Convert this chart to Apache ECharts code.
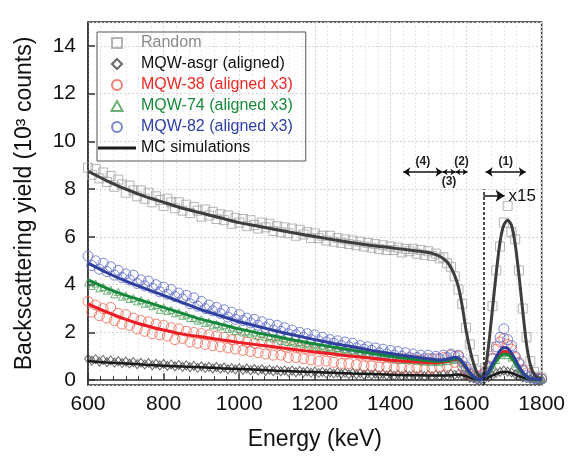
<!DOCTYPE html>
<html>
<head>
<meta charset="utf-8">
<script src="https://cdn.jsdelivr.net/npm/echarts@6/dist/echarts.min.js"></script>
<style>html,body{margin:0;padding:0;background:#fff}#chart{width:568px;height:456px}</style>
</head>
<body>
<div id="chart"></div>
<script>
// measured channels (keV)
let expEnergy = [600,610,620,630,640,650,660,670,680,690,700,710,720,730,740,750,760,770,780,790,
  800,810,820,830,840,850,860,870,880,890,900,910,920,930,940,950,960,970,980,990,
  1000,1010,1020,1030,1040,1050,1060,1070,1080,1090,1100,1110,1120,1130,1140,1150,1160,1170,1180,1190,
  1200,1210,1220,1230,1240,1250,1260,1270,1280,1290,1300,1310,1320,1330,1340,1350,1360,1370,1380,1390,
  1400,1410,1420,1430,1440,1450,1460,1470,1480,1490,1500,1510,1520,1530,1540,1550,1560,1570,1580,1590,
  1600,1610,1620,1630,1640,1650,1660,1670,1680,1690,1700,1710,1720,1730,1740,1750,1760,1770,1780,1790,1800];

let randomY = [8.9,8.6,8.85,8.45,8.7,8.3,8.55,8.1,8.4,8.2, 7.85,8.15,7.95,7.7,7.95,7.6,7.85,7.45,7.7,7.55,
  7.3,7.6,7.45,7.2,7.45,7.1,7.35,7.0,7.25,7.1, 6.85,7.15,6.9,7.05,6.75,6.95,6.7,6.9,6.55,6.8,
  6.6,6.75,6.45,6.7,6.5,6.35,6.6,6.4,6.55,6.25, 6.45,6.2,6.4,6.15,6.35,6.05,6.3,6.1,6.2,5.95,
  6.15,5.95,6.05,5.85,6.05,5.8,5.95,5.75,5.9,5.7, 5.85,5.65,5.8,5.6,5.75,5.55,5.7,5.5,5.65,5.45,
  5.6,5.45,5.55,5.35,5.5,5.4,5.5,5.3,5.45,5.25, 5.4,5.2,5.3,5.1,5.15,4.9,4.75,4.35,3.8,3.2,
  2.2,1.5,0.85,0.4,0.2,0.5,1.4,3.1,4.6,5.6, 6.6,7.3,6.2,5.9,4.6,3.0,1.8,0.8,0.35,0.15,0.1];

let asgrY = [0.9,0.82,0.88,0.78,0.85,0.76,0.83,0.74,0.8,0.72, 0.78,0.7,0.76,0.67,0.73,0.66,0.72,0.63,0.69,0.62,
  0.68,0.6,0.66,0.58,0.64,0.56,0.62,0.55,0.6,0.52, 0.58,0.51,0.56,0.49,0.55,0.48,0.53,0.46,0.51,0.45,
  0.5,0.43,0.49,0.42,0.47,0.41,0.46,0.39,0.44,0.38, 0.43,0.37,0.41,0.35,0.4,0.34,0.39,0.33,0.37,0.31,
  0.36,0.3,0.35,0.29,0.33,0.28,0.32,0.27,0.31,0.25, 0.3,0.24,0.29,0.23,0.28,0.22,0.27,0.21,0.26,0.2,
  0.25,0.19,0.24,0.18,0.23,0.18,0.22,0.17,0.22,0.17, 0.22,0.17,0.23,0.18,0.24,0.19,0.26,0.22,0.27,0.2,
  0.18,0.1,0.07,0.03,0.02,0.06,0.13,0.2,0.3,0.35, 0.4,0.36,0.33,0.25,0.2,0.12,0.08,0.05,0.04,0.03,0.02];

let mqw38Y = [3.3,2.85,3.15,2.7,3.0,2.6,3.05,2.5,2.8,2.35, 2.75,2.3,2.6,2.15,2.5,2.05,2.45,1.95,2.35,1.9,
  2.3,1.85,2.2,1.7,2.15,1.75,2.05,1.6,2.0,1.55, 1.95,1.5,1.9,1.45,1.85,1.4,1.8,1.35,1.7,1.3,
  1.75,1.25,1.6,1.2,1.55,1.15,1.6,1.1,1.5,1.05, 1.5,1.05,1.4,0.95,1.4,0.95,1.35,0.9,1.3,0.85,
  1.3,0.8,1.25,0.8,1.2,0.75,1.2,0.7,1.1,0.7, 1.15,0.65,1.05,0.6,1.0,0.6,1.0,0.55,0.95,0.55,
  0.95,0.5,0.9,0.5,0.9,0.45,0.9,0.5,0.85,0.45, 0.9,0.5,0.9,0.55,0.95,0.6,1.05,0.75,1.0,0.6,
  0.45,0.25,0.15,0.1,0.2,0.35,0.6,0.9,1.3,1.6, 1.75,1.5,1.3,0.95,0.75,0.45,0.3,0.15,0.1,0.08,0.05];

let mqw74Y = [4.1,3.95,4.05,3.85,3.9,3.75,3.8,3.6,3.7,3.5, 3.55,3.4,3.45,3.3,3.35,3.2,3.25,3.1,3.15,2.95,
  3.05,2.9,2.95,2.8,2.85,2.7,2.75,2.6,2.6,2.5, 2.55,2.4,2.45,2.3,2.35,2.25,2.3,2.15,2.2,2.05,
  2.15,2.0,2.05,1.95,2.0,1.85,1.95,1.8,1.85,1.75, 1.8,1.65,1.75,1.6,1.65,1.55,1.6,1.5,1.55,1.45,
  1.5,1.4,1.45,1.35,1.4,1.3,1.35,1.25,1.3,1.2, 1.25,1.15,1.2,1.1,1.15,1.05,1.1,1.0,1.05,0.95,
  1.0,0.9,0.95,0.85,0.9,0.85,0.88,0.8,0.85,0.78, 0.82,0.76,0.8,0.76,0.82,0.8,0.88,0.85,0.9,0.7,
  0.55,0.3,0.15,0.08,0.15,0.3,0.45,0.65,0.85,1.05, 1.15,1.05,0.95,0.7,0.5,0.3,0.18,0.1,0.07,0.05,0.04];

let mqw82Y = [5.2,4.8,5.0,4.65,4.9,4.55,4.75,4.4,4.6,4.3, 4.45,4.2,4.4,4.05,4.2,3.95,4.15,3.85,4.0,3.7,
  3.9,3.6,3.8,3.5,3.65,3.4,3.55,3.2,3.45,3.1, 3.3,3.0,3.15,2.9,3.05,2.8,2.95,2.65,2.85,2.55,
  2.75,2.5,2.6,2.4,2.55,2.3,2.45,2.2,2.35,2.1, 2.3,2.05,2.2,1.95,2.1,1.9,2.0,1.8,1.95,1.7,
  1.9,1.65,1.8,1.6,1.7,1.55,1.65,1.45,1.6,1.4, 1.55,1.35,1.45,1.3,1.4,1.25,1.35,1.15,1.3,1.1,
  1.25,1.05,1.2,1.0,1.15,0.95,1.1,0.95,1.05,0.9, 1.05,0.9,1.0,0.9,1.05,0.95,1.1,1.0,1.05,0.8,
  0.55,0.3,0.15,0.08,0.1,0.3,0.55,0.9,1.4,1.8, 2.15,1.7,1.45,1.0,0.7,0.4,0.2,0.12,0.08,0.06,0.05];

// MC simulation curves
let mcEnergy = [600,650,700,750,800,850,900,950,1000,1050,1100,1150,1200,1250,1300,1350,1400,1450,1500,
  1510,1520,1530,1540,1550,1560,1570,1580,1590,1600,1610,1620,1630,1640,1650,
  1660,1670,1680,1690,1700,1710,1720,1730,1740,1750,1760,1770,1780,1790,1800];
let mcRandom = [8.75,8.35,8.0,7.7,7.45,7.2,7.0,6.8,6.6,6.45,6.3,6.15,6.02,5.88,5.76,5.64,5.55,5.45,5.35,
  5.31,5.26,5.19,5.09,4.95,4.72,4.38,3.9,3.1,2.1,1.3,0.7,0.28,0.1,0.4,
  1.5,3.0,4.5,5.8,6.5,6.7,6.5,5.7,4.4,2.9,1.5,0.65,0.25,0.1,0.05];
let mcAsgr = [0.8,0.74,0.7,0.65,0.61,0.57,0.54,0.5,0.47,0.44,0.4,0.37,0.34,0.31,0.28,0.26,0.23,0.21,0.2,
  0.2,0.2,0.2,0.2,0.2,0.21,0.23,0.24,0.22,0.17,0.11,0.06,0.03,0.02,0.05,
  0.12,0.2,0.27,0.32,0.34,0.34,0.3,0.24,0.17,0.11,0.07,0.04,0.03,0.02,0.02];
let mc38 = [3.2,2.85,2.55,2.3,2.1,1.93,1.82,1.7,1.58,1.48,1.38,1.28,1.18,1.1,1.0,0.92,0.84,0.78,0.74,
  0.73,0.73,0.74,0.76,0.79,0.83,0.87,0.86,0.72,0.5,0.3,0.15,0.06,0.03,0.12,
  0.32,0.58,0.85,1.07,1.2,1.18,1.02,0.78,0.52,0.3,0.15,0.07,0.04,0.03,0.02];
let mc74 = [4.2,3.85,3.55,3.3,3.05,2.8,2.55,2.35,2.15,1.98,1.82,1.66,1.52,1.38,1.25,1.13,1.0,0.9,0.82,
  0.8,0.79,0.79,0.8,0.82,0.86,0.9,0.88,0.74,0.52,0.3,0.14,0.06,0.03,0.12,
  0.32,0.56,0.8,1.0,1.1,1.08,0.94,0.72,0.48,0.28,0.14,0.07,0.04,0.03,0.02];
let mc82 = [4.9,4.5,4.15,3.85,3.55,3.25,2.95,2.7,2.45,2.25,2.05,1.87,1.7,1.54,1.4,1.25,1.12,1.0,0.9,
  0.88,0.86,0.85,0.86,0.88,0.92,0.96,0.93,0.78,0.55,0.32,0.15,0.06,0.03,0.14,
  0.38,0.68,0.98,1.24,1.37,1.34,1.15,0.88,0.58,0.33,0.16,0.08,0.05,0.04,0.03];

// depth regions (keV) and the x15 boundary
let regions = [
  {name:'(4)', from:1434, to:1538, below:false, head:7},
  {name:'(3)', from:1538, to:1572, below:true, head:5},
  {name:'(2)', from:1572, to:1604, below:false, head:5},
  {name:'(1)', from:1652, to:1758, below:false, head:7}
];
let regionY = 8.72;
let scaleEdge = 1646;

const FONT = '"Liberation Sans", Arial, sans-serif';
// legend marker outlines (path icons keep their aspect in the legend box)
const ICON_SQUARE = 'path://M0,0 H10 V10 H0 Z';
const ICON_DIAMOND = 'path://M5,0 L10,5 L5,10 L0,5 Z';
const ICON_TRIANGLE = 'path://M5,0 L10,9 L0,9 Z';
const ICON_LINE = 'path://M0,0 H38 V3 H0 Z';

let chart = echarts.init(document.getElementById('chart'));

function pairs(xs, ys) {
  return xs.map(function (x, i) { return [x, ys[i]]; });
}

function scatter(name, symbol, size, color, ys) {
  return {
    name: name, type: 'scatter', symbol: symbol, symbolSize: size,
    itemStyle: {color: 'transparent', borderColor: color, borderWidth: 1},
    data: pairs(expEnergy, ys), silent: true
  };
}

function mcLine(color, width, ys) {
  return {
    name: 'MC simulations', type: 'line', symbol: 'none', smooth: 0.25,
    lineStyle: {color: color, width: width}, itemStyle: {color: color},
    data: pairs(mcEnergy, ys), silent: true
  };
}

let markData = regions.map(function (r) {
  return [
    {coord: [r.from, regionY], symbol: 'arrow', symbolSize: r.head,
     label: {show: true, formatter: r.name, position: r.below ? 'insideMiddleBottom' : 'insideMiddleTop',
             distance: 4, color: '#222', fontSize: 12, fontWeight: 'bold', fontFamily: FONT}},
    {coord: [r.to, regionY], symbol: 'arrow', symbolSize: r.head}
  ];
});
markData.push([
  {coord: [scaleEdge, -0.2], symbol: 'none', label: {show: false},
   lineStyle: {type: [3, 2], width: 1.5, color: '#111'}},
  {coord: [scaleEdge, 8.0], symbol: 'none'}
]);
markData.push([
  {coord: [scaleEdge, 7.72], symbol: 'none',
   label: {show: true, formatter: 'x15', position: 'end', distance: 4, color: '#111', fontSize: 17, fontFamily: FONT},
   lineStyle: {width: 1.5, color: '#111'}},
  {coord: [1702, 7.72], symbol: 'arrow', symbolSize: 9}
]);

let option = {
  animation: false,
  backgroundColor: '#fff',
  grid: {left: 88, right: 26, top: 22, bottom: 71, show: true, borderColor: '#333', borderWidth: 1.5},
  legend: {
    orient: 'vertical', left: 97, top: 32,
    itemWidth: 38, itemHeight: 10, itemGap: 5,
    padding: [3, 13, 5, 1],
    borderColor: '#555', borderWidth: 1,
    symbolKeepAspect: true,
    textStyle: {fontSize: 16, fontFamily: FONT},
    data: [
      {name: 'Random', icon: ICON_SQUARE, textStyle: {color: '#8a8a8a'}},
      {name: 'MQW-asgr (aligned)', icon: ICON_DIAMOND, textStyle: {color: '#111'}},
      {name: 'MQW-38 (aligned x3)', textStyle: {color: '#ee2a24'}},
      {name: 'MQW-74 (aligned x3)', icon: ICON_TRIANGLE, textStyle: {color: '#178a3a'}},
      {name: 'MQW-82 (aligned x3)', textStyle: {color: '#2f40a8'}},
      {name: 'MC simulations', icon: ICON_LINE, textStyle: {color: '#111'}}
    ]
  },
  xAxis: {
    type: 'value', min: 600, max: 1800, interval: 200,
    name: 'Energy (keV)', nameLocation: 'middle', nameGap: 43,
    nameTextStyle: {fontSize: 23, color: '#111', fontFamily: FONT},
    axisLine: {lineStyle: {color: '#333', width: 1.5}},
    axisTick: {inside: true, length: 7, lineStyle: {color: '#333', width: 1.5}},
    minorTick: {show: true, splitNumber: 6, length: 4, lineStyle: {color: '#333', width: 1}},
    axisLabel: {fontSize: 21, color: '#111', margin: 9, fontFamily: FONT,
                formatter: function (v) { return String(v); }},
    splitLine: {show: true, lineStyle: {type: [2, 2], color: '#d4d4d4', width: 1}},
    minorSplitLine: {show: true, lineStyle: {type: [2, 2], color: '#e6e6e6', width: 1}}
  },
  yAxis: {
    type: 'value', min: -0.2, max: 15, splitNumber: 8,
    name: 'Backscattering yield (10³ counts)', nameLocation: 'middle', nameGap: 52,
    nameTextStyle: {fontSize: 23, color: '#111', fontFamily: FONT},
    axisLine: {show: true, lineStyle: {color: '#333', width: 1.5}},
    axisTick: {inside: true, length: 7, lineStyle: {color: '#333', width: 1.5}},
    axisLabel: {fontSize: 21, color: '#111', margin: 12, fontFamily: FONT, showMinLabel: false, showMaxLabel: false},
    splitLine: {show: true, lineStyle: {type: [2, 2], color: '#d4d4d4', width: 1}}
  },
  series: [
    scatter('Random', 'rect', 9, '#a3a3a3', randomY),
    scatter('MQW-asgr (aligned)', 'diamond', [7, 9], '#444', asgrY),
    scatter('MQW-38 (aligned x3)', 'circle', 10, '#f2604c', mqw38Y),
    scatter('MQW-74 (aligned x3)', 'triangle', 7, '#4a9e58', mqw74Y),
    scatter('MQW-82 (aligned x3)', 'circle', 10, '#5a68c8', mqw82Y),
    mcLine('#1a1a1a', 2.5, mcAsgr),
    mcLine('#3d3d3d', 3, mcRandom),
    mcLine('#ec1c24', 3, mc38),
    mcLine('#14873a', 3, mc74),
    mcLine('#2e3f9e', 3, mc82),
    {
      name: 'annotations', type: 'line', data: [], silent: true,
      markLine: {
        silent: true, animation: false, symbolSize: 7, precision: 2,
        lineStyle: {color: '#111', width: 1.5, type: 'solid'},
        label: {show: false},
        data: markData
      }
    }
  ]
};

chart.setOption(option);
</script>
</body>
</html>
